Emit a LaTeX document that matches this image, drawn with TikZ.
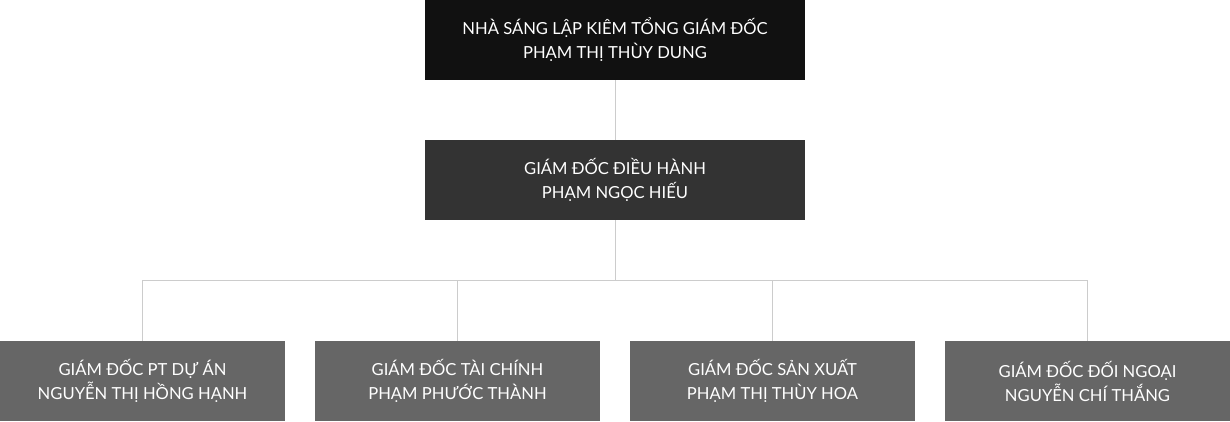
\documentclass[tikz,border=0pt]{standalone}
\usepackage{fontspec}
\setmainfont{Lato}
\usetikzlibrary{positioning}
\definecolor{topgray}{HTML}{111111}
\definecolor{midgray}{HTML}{333333}
\definecolor{lowgray}{HTML}{666666}
\definecolor{linegray}{HTML}{CCCCCC}
\tikzset{
	box/.style={minimum width=380pt, minimum height=80pt, inner sep=0pt, text=white, align=center, font=\fontsize{16.6}{24}\selectfont},
	subbox/.style={box, minimum width=285pt, fill=lowgray},
	link/.style={draw=linegray, line width=1pt}
}
\begin{document}
\begin{tikzpicture}[x=1pt,y=-1pt]
	%\draw [help lines] (0,0) grid (1230,421);
	\useasboundingbox (0,0) rectangle (1230,421);
	\node [box, fill=topgray] (ceo) at (615,40) {NHÀ SÁNG LẬP KIÊM TỔNG GIÁM ĐỐC\\PHẠM THỊ THÙY DUNG};
	\node [box, fill=midgray] (coo) at (615,180) {GIÁM ĐỐC ĐIỀU HÀNH\\PHẠM NGỌC HIẾU};
	
	\node [subbox] (duan) at (142.5,381) {GIÁM ĐỐC PT DỰ ÁN\\NGUYỄN THỊ HỒNG HẠNH};
	\node [subbox] (taichinh) at (457.5,381) {GIÁM ĐỐC TÀI CHÍNH\\PHẠM PHƯỚC THÀNH};
	\node [subbox] (sanxuat) at (772.5,381) {GIÁM ĐỐC SẢN XUẤT\\PHẠM THỊ THÙY HOA};
	\node [subbox] (doingoai) at (1087.5,381) {GIÁM ĐỐC ĐỐI NGOẠI\\NGUYỄN CHÍ THẮNG};
	
	\coordinate (hub) at (615,280.5);
	\draw [link] (ceo) -- (coo);
	\draw [link] (coo) -- (hub);
	\draw [link] (duan.north) |- (hub) -| (doingoai.north);
	\draw [link] (taichinh.north) -- (taichinh.north |- hub);
	\draw [link] (sanxuat.north) -- (sanxuat.north |- hub);
\end{tikzpicture}
\end{document}
